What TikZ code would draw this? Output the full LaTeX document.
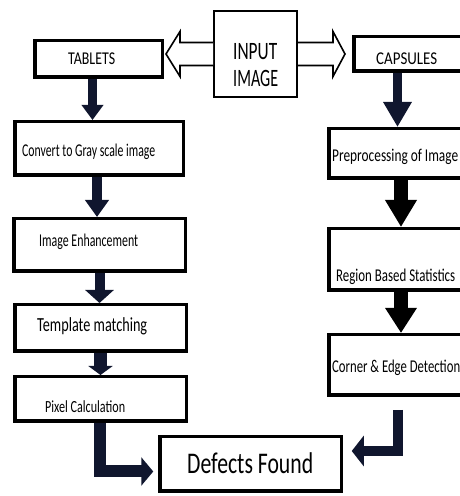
\documentclass[tikz,border=0pt]{standalone}
\usepackage{fontspec}
\setmainfont{Carlito}
\usetikzlibrary{arrows.meta}
\definecolor{navy}{RGB}{16,22,46}
\newcommand\sq[2]{\resizebox{#1}{\height}{#2}}
\tikzset{
  box/.style= {draw, line width=3.5pt, inner sep=0pt},
  thinbox/.style= {draw, line width=2pt, inner sep=0pt},
  lbl/.style= {anchor=base west, inner sep=0pt, font=\fontsize{18}{18}\selectfont},
  blk/.style= {color=navy, line width=10pt},
  hollow/.style= {draw, line width=1.6pt, fill=white, line join=miter},
}

\begin{document}
\begin{tikzpicture}[x=1pt, y=1pt]
  \useasboundingbox (0,0) rectangle (460,496);
  \clip (0,0) rectangle (460,496);
  % boxes
  \node [box, minimum width=127.5, minimum height=36.5] (tab) at (98.5,437) {};
  \node [thinbox, minimum width=83, minimum height=86] (inp) at (255.5,442) {};
  \node [box, minimum width=114.5, minimum height=34.5] (cap) at (411,442) {};
  \node [box, minimum width=168.5, minimum height=53.5] (conv) at (99,347.5) {};
  \node [box, minimum width=171.5, minimum height=52.5] (enh) at (99.5,251) {};
  \node [box, minimum width=171.5, minimum height=46.5] (tmpl) at (100.5,168) {};
  \node [box, minimum width=171.5, minimum height=44.5] (pix) at (100.5,97) {};
  \node [box, minimum width=139.5, minimum height=49.5] (pre) at (398.5,342.5) {};
  \node [box, minimum width=139.5, minimum height=61.5] (reg) at (398.5,236.5) {};
  \node [box, minimum width=139.5, minimum height=60.5] (cor) at (398.5,131) {};
  \node [box, minimum width=181.5, minimum height=54.5] (def) at (250.5,32) {};

  % texts
  \node [lbl] (tab-t) at (68,431) {\sq{47pt}{TABLETS}};
  \node [lbl, font=\fontsize{25}{25}\selectfont] (inp-t1) at (233,436) {\sq{44pt}{INPUT}};
  \node [lbl, font=\fontsize{25}{25}\selectfont] (inp-t2) at (233,409) {\sq{45pt}{IMAGE}};
  \node [lbl] (cap-t) at (376,431) {\sq{61pt}{CAPSULES}};
  \node [lbl] (conv-t) at (22,339) {\sq{133pt}{Convert to Gray scale image}};
  \node [lbl] (enh-t) at (39,249) {\sq{99pt}{Image Enhancement}};
  \node [lbl, font=\fontsize{20}{20}\selectfont] (tmpl-t) at (37,164) {\sq{110pt}{Template matching}};
  \node [lbl, font=\fontsize{17}{17}\selectfont] (pix-t) at (45,83) {\sq{80pt}{Pixel Calculation}};
  \node [lbl] (pre-t) at (332,334) {\sq{126pt}{Preprocessing of Image}};
  \node [lbl] (reg-t) at (336,214) {\sq{119pt}{Region Based Statistics}};
  \node [lbl] (cor-t) at (332,123) {\sq{128pt}{Corner \& Edge Detection}};
  \node [lbl, font=\fontsize{30}{30}\selectfont] (def-t) at (187,22) {\sq{126pt}{Defects Found}};

  % input image double arrow
  \draw [hollow] ([yshift=11.5pt]inp.west) -- ++(-33,0) -- ++(0,11) -- ++(-14,-22.5)
    -- ++(14,-22.5) -- ++(0,11) -- ++(33,0);
  \draw [hollow] ([yshift=11.5pt]inp.east) -- ++(35,0) -- ++(0,11) -- ++(12,-22.5)
    -- ++(-12,-22.5) -- ++(0,11) -- ++(-35,0);

  % tablets column
  \draw [blk, line width=9pt, -{Triangle[width=21pt,length=15pt]}]
    ([xshift=-6pt]tab.south) -- ([xshift=-6pt]tab.south |- conv.north);
  \draw [blk, -{Triangle[width=23pt,length=17pt]}]
    ([xshift=-2pt]conv.south) -- ([xshift=-2pt]conv.south |- enh.north);
  \draw [blk, -{Triangle[width=28pt,length=13pt]}]
    (enh.south) -- (enh.south |- tmpl.north);
  \draw [blk, line width=13pt, -{Triangle[width=24pt,length=9pt]}]
    (tmpl.south) -- (pix.north);

  % capsules column
  \coordinate (cap-out) at (397.5,0);
  \draw [blk, line width=9pt, -{Triangle[width=27pt,length=25pt]}]
    (cap-out |- cap.south) -- (cap-out |- pre.north);
  \coordinate (col-r) at (401,0);
  \draw [blk, black, line width=14pt, -{Triangle[width=30pt,length=27pt]}]
    (col-r |- pre.south) -- (col-r |- reg.north);
  \draw [blk, black, line width=14pt, -{Triangle[width=30pt,length=25pt]}]
    (col-r |- reg.south) -- (col-r |- cor.north);

  % to defects
  \draw [blk, line width=12pt, -{Triangle[width=28pt,length=12pt]}]
    ([xshift=-1pt]pix.south) |- ([xshift=-4.75pt,yshift=-7.5pt]def.west);
  \coordinate (cor-end) at (397.5,86);
  \draw [blk, line width=10pt, -{Triangle[width=30pt,length=12pt]}]
    (cor-end) |- ([xshift=8.75pt,yshift=13pt]def.east);
\end{tikzpicture}
\end{document}
